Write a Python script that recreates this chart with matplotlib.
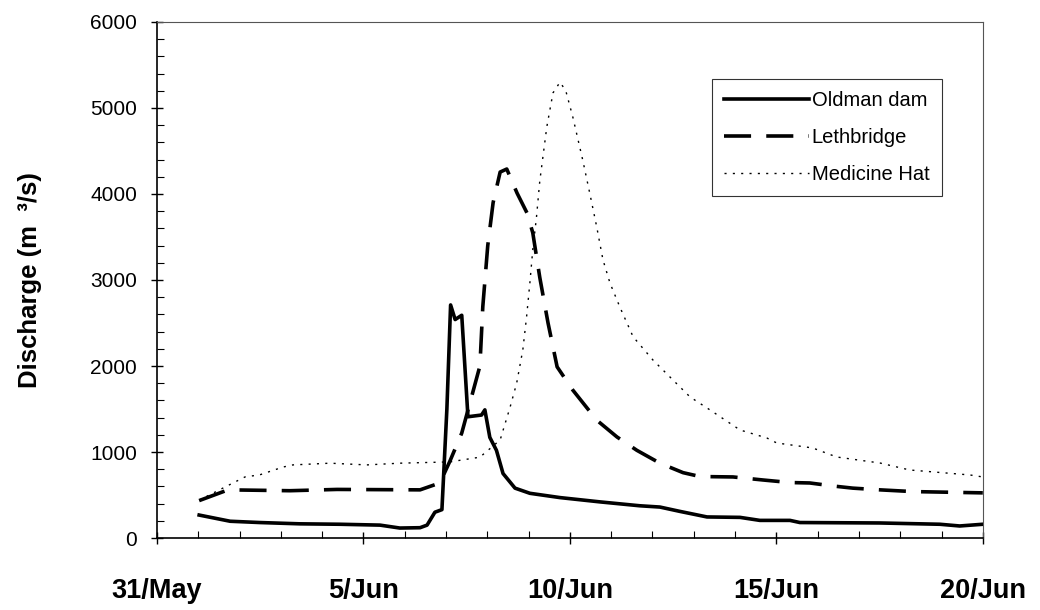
import matplotlib
matplotlib.use("Agg")
import matplotlib.pyplot as plt
from matplotlib.ticker import MultipleLocator

# days after 31 May 00:00, discharge in m3/s
oldman_day = [1.02, 1.77, 2.49, 3.46, 4.43, 5.40, 5.88, 6.37, 6.54, 6.73, 6.90, 7.02, 7.11,
              7.22, 7.38, 7.53, 7.86, 7.94, 8.06, 8.22, 8.38, 8.67, 9.03, 9.76, 10.73, 11.69,
              12.18, 12.66, 13.32, 14.12, 14.60, 15.33, 15.57, 17.50, 18.96, 19.44, 20.0]
oldman_q = [267, 195, 180, 165, 160, 150, 116, 120, 150, 300, 330, 1500, 2710,
            2540, 2590, 1410, 1430, 1490, 1170, 1020, 750, 580, 520, 470, 420, 375,
            360, 310, 245, 240, 205, 205, 180, 175, 160, 140, 160]

leth_day = [1.02, 1.72, 3.22, 4.36, 6.37, 6.85, 7.09, 7.38, 7.82, 7.89, 8.01, 8.14, 8.31,
            8.47, 8.72, 8.96, 9.10, 9.27, 9.47, 9.69, 10.07, 10.65, 11.14, 11.62, 12.18,
            12.74, 13.15, 13.95, 14.67, 15.33, 15.81, 16.37, 16.85, 17.51, 18.30, 20.0]
leth_q = [435, 560, 550, 565, 560, 640, 890, 1220, 2000, 2690, 3400, 3900, 4255,
          4290, 4010, 3780, 3550, 3030, 2500, 1990, 1720, 1370, 1175, 1020, 870,
          760, 715, 710, 675, 645, 640, 605, 580, 560, 540, 525]

mhat_day = [1.02, 1.84, 2.13, 2.49, 3.05, 3.29, 4.19, 5.08, 5.88, 7.09, 7.82, 8.31, 8.55,
            8.71, 8.86, 8.95, 9.03, 9.10, 9.19, 9.27, 9.44, 9.59, 9.76, 9.90, 10.07, 10.31,
            10.48, 10.65, 10.80, 10.97, 11.21, 11.53, 12.01, 12.49, 12.91, 13.39, 14.12,
            14.77, 15.01, 15.88, 16.46, 17.51, 18.23, 19.69, 20.0]
mhat_q = [440, 640, 710, 735, 825, 850, 870, 850, 870, 885, 940, 1140, 1520,
          1800, 2190, 2570, 2965, 3350, 3730, 4150, 4780, 5175, 5300, 5200, 4895, 4395,
          4010, 3615, 3235, 2965, 2685, 2340, 2070, 1840, 1640, 1490, 1256,
          1163, 1105, 1047, 942, 872, 791, 733, 710]

tick_days = [0, 5, 10, 15, 20]
tick_labels = ["31/May", "5/Jun", "10/Jun", "15/Jun", "20/Jun"]

plt.rcParams["font.family"] = ["Liberation Sans", "DejaVu Sans"]

fig = plt.figure(figsize=(10.4, 6.1), dpi=100)
ax = fig.add_axes([0.151, 0.118, 0.794, 0.846])

ax.plot(oldman_day, oldman_q, color="black", lw=2.6, ls="-", label="Oldman dam")
ax.plot(leth_day, leth_q, color="black", lw=2.6, ls=(0, (7.5, 4.2)), label="Lethbridge")
ax.plot(mhat_day, mhat_q, color="black", lw=1.0, ls=(0, (1.5, 4.5)), label="Medicine Hat")

ax.set_xlim(0, 20)
ax.set_ylim(0, 6000)
ax.set_xticks(tick_days)
ax.set_xticklabels(tick_labels, fontsize=19.5, fontweight="bold")
ax.xaxis.set_minor_locator(MultipleLocator(1))
ax.yaxis.set_major_locator(MultipleLocator(1000))
ax.yaxis.set_minor_locator(MultipleLocator(200))
for lab in ax.get_yticklabels():
    lab.set_fontsize(15)

ax.tick_params(which="major", direction="inout", length=9, width=1, color="black")
ax.tick_params(which="minor", direction="in", length=5, width=0.8)
ax.tick_params(axis="y", which="major", pad=10)
ax.tick_params(axis="x", which="major", pad=24)

for s in ["left", "bottom"]:
    ax.spines[s].set_linewidth(1.2)
for s in ["top", "right"]:
    ax.spines[s].set_linewidth(0.8)
    ax.spines[s].set_color("#555555")

ax.set_ylabel("Discharge (m  \u00b3/s)", fontsize=18.5, fontweight="bold")
ax.yaxis.set_label_coords(-0.139, 0.5)

leg = ax.legend(loc="upper right", bbox_to_anchor=(0.950, 0.8895), fontsize=14.5,
                handlelength=4.2, handletextpad=0.15, frameon=True, fancybox=False,
                edgecolor="black", borderpad=0.6, labelspacing=0.9, borderaxespad=0)
leg.get_frame().set_linewidth(0.8)

fig.savefig("out.png", dpi=100)
